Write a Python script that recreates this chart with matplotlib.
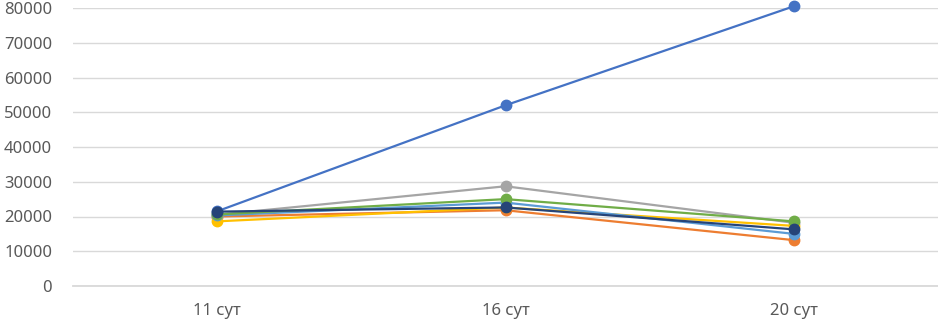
import matplotlib
matplotlib.use("Agg")
import matplotlib.pyplot as plt

categories = ["11 сут", "16 сут", "20 сут"]
s1 = [21500, 52000, 80500]
s2 = [20000, 21800, 13200]
s3 = [20500, 28700, 18200]
s4 = [18600, 22600, 17300]
s5 = [20300, 24000, 15000]
s6 = [20600, 25000, 18600]
s7 = [21400, 22600, 16300]
series = [s1, s2, s3, s4, s5, s6, s7]
colors = ["#4472C4", "#ED7D31", "#A5A5A5", "#FFC000", "#5B9BD5", "#70AD47", "#264478"]
yticks = [0, 10000, 20000, 30000, 40000, 50000, 60000, 70000, 80000]

plt.rcParams['font.family'] = ['Noto Sans', 'DejaVu Sans']
fig = plt.figure(figsize=(9.38, 3.24), dpi=100)
ax = fig.add_axes([73/938, (324-286)/324, (938-73)/938, (286-8)/324])

x = list(range(len(categories)))
for vals, c in zip(series, colors):
    ax.plot(x, vals, color=c, lw=1.6, marker='o', ms=7.5, zorder=3, clip_on=False)

ax.set_xlim(-0.5, 2.5)
ax.set_ylim(0, 80000)
ax.set_yticks(yticks)
ax.set_yticklabels([str(v) for v in yticks])
ax.set_xticks(x)
ax.set_xticklabels(categories)
ax.grid(axis='y', color='#D9D9D9', lw=1)
ax.axhline(0, color='#D9D9D9', lw=1.3, clip_on=False, zorder=1)
ax.set_axisbelow(True)
for sp in ax.spines.values():
    sp.set_visible(False)
ax.tick_params(axis='both', length=0, colors='#595959', labelsize=12)
ax.tick_params(axis='y', pad=15)
ax.tick_params(axis='x', pad=12)

fig.savefig("out.png", dpi=100)
